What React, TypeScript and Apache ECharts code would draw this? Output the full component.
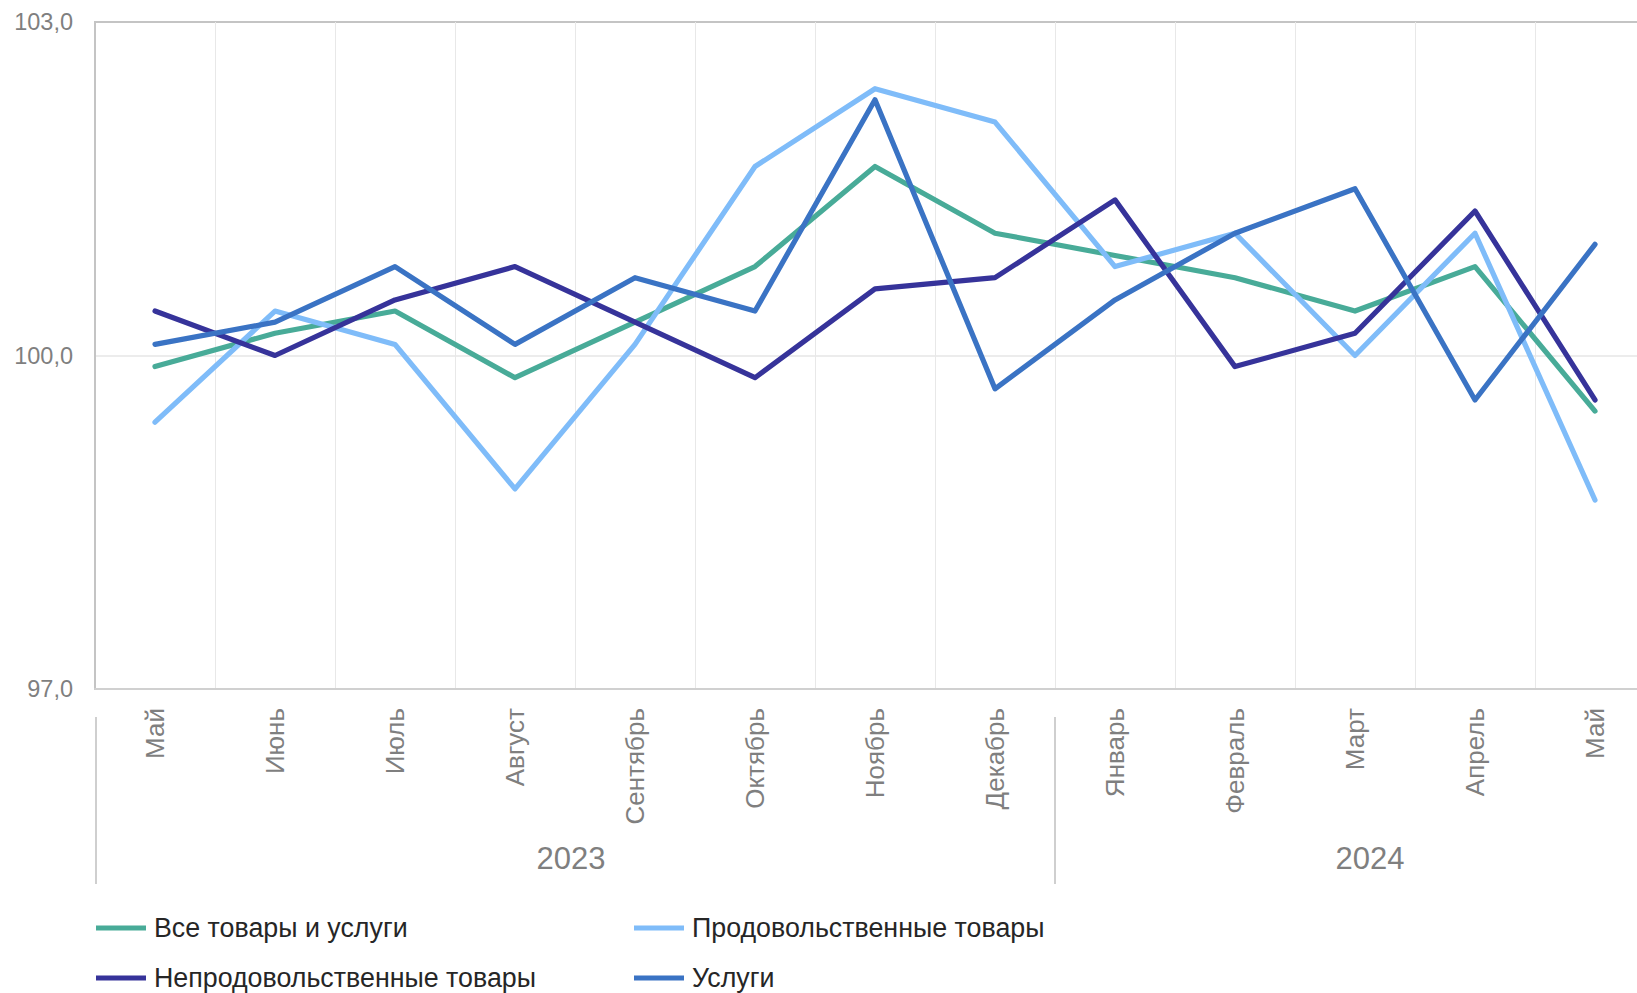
import React, { useEffect, useRef } from "react";
import * as echarts from "echarts";

const months = ["Май", "Июнь", "Июль", "Август", "Сентябрь", "Октябрь", "Ноябрь", "Декабрь", "Январь", "Февраль", "Март", "Апрель", "Май"];
const years = ["2023", "2024"];
const yearStartIndex = [0, 8];

const allGoods = [99.9, 100.2, 100.4, 99.8, 100.3, 100.8, 101.7, 101.1, 100.9, 100.7, 100.4, 100.8, 99.5];
const foodGoods = [99.4, 100.4, 100.1, 98.8, 100.1, 101.7, 102.4, 102.1, 100.8, 101.1, 100.0, 101.1, 98.7];
const nonFoodGoods = [100.4, 100.0, 100.5, 100.8, 100.3, 99.8, 100.6, 100.7, 101.4, 99.9, 100.2, 101.3, 99.6];
const services = [100.1, 100.3, 100.8, 100.1, 100.7, 100.4, 102.3, 99.7, 100.5, 101.1, 101.5, 99.6, 101.0];

const seriesNames = ["Все товары и услуги", "Продовольственные товары", "Непродовольственные товары", "Услуги"];
const seriesColors = ["#48ab98", "#7fbcf9", "#36339a", "#3a73c4"];
const seriesValues = [allGoods, foodGoods, nonFoodGoods, services];

const yTicks = [97, 100, 103];

const FONT = "'Liberation Sans', Arial, sans-serif";

export default function App() {
  const ref = useRef<HTMLDivElement>(null);

  useEffect(() => {
    if (!ref.current) return;
    const chart = echarts.init(ref.current, null, { renderer: "svg" });

    const splitColors = [];
    for (let v = 97; v <= 103; v++) {
      splitColors.push(v === 100 ? "#e6e6e6" : "rgba(0,0,0,0)");
    }

    const legendCommon = {
      orient: "vertical",
      icon: "rect",
      itemWidth: 50,
      itemHeight: 5,
      itemGap: 20,
      padding: 0,
      selectedMode: false,
      textStyle: { fontFamily: FONT, fontSize: 26.8, color: "#262626", lineHeight: 30, padding: [0, 0, 0, 3] },
    };

    chart.setOption({
      animation: false,
      backgroundColor: "#ffffff",
      grid: {
        left: 95,
        top: 22,
        width: 1560,
        bottom: 304,
        outerBoundsMode: "none",
        containLabel: false,
        show: true,
        borderColor: "#c4c4c4",
        borderWidth: 2,
        backgroundColor: "rgba(0,0,0,0)",
      },
      legend: [
        { ...legendCommon, left: 96, top: 913, data: [seriesNames[0], seriesNames[2]] },
        { ...legendCommon, left: 634, top: 913, data: [seriesNames[1], seriesNames[3]] },
      ],
      xAxis: {
        type: "category",
        data: months,
        boundaryGap: true,
        axisLine: { show: true, lineStyle: { color: "#d0d0d0", width: 2 } },
        axisTick: { show: false },
        splitLine: { show: true, lineStyle: { color: "#e8e8e8", width: 1 } },
        axisLabel: {
          rotate: 90,
          margin: 19,
          fontFamily: FONT,
          fontSize: 26,
          color: "#7f7f7f",
          interval: 0,
        },
      },
      yAxis: {
        type: "value",
        min: 97,
        max: 103,
        interval: 1,
        axisLine: { show: true, lineStyle: { color: "#c4c4c4", width: 2 } },
        axisTick: { show: false },
        splitLine: { show: true, lineStyle: { color: splitColors, width: 1.5 } },
        axisLabel: {
          margin: 22,
          fontFamily: FONT,
          fontSize: 23.5,
          color: "#7f7f7f",
          formatter: (v: number) => (yTicks.includes(Math.round(v * 10) / 10) ? v.toFixed(1).replace(".", ",") : ""),
        },
      },
      series: seriesNames.map((name, i) => ({
        name,
        type: "line",
        data: seriesValues[i],
        symbol: "none",
        itemStyle: { color: seriesColors[i] },
        lineStyle: { color: seriesColors[i], width: 5.2, cap: "round", join: "round" },
        z: 2 + i,
      })),
    });

    const px = (i: number) => chart.convertToPixel({ xAxisIndex: 0 }, i) as number;
    const band = px(1) - px(0);
    const sepTop = 717;
    const sepBottom = 884;
    const boundaries = [px(0) - band / 2 + 1, px(yearStartIndex[1]) - band / 2];
    const yearCenters = [
      (px(yearStartIndex[0]) + px(yearStartIndex[1] - 1)) / 2 - 4,
      (px(yearStartIndex[1]) + px(months.length - 1)) / 2 + 15,
    ];

    chart.setOption({
      graphic: [
        ...boundaries.map((x) => ({
          type: "line",
          shape: { x1: x, y1: sepTop, x2: x, y2: sepBottom },
          style: { stroke: "#bfbfbf", lineWidth: 1.5 },
        })),
        ...years.map((y, i) => ({
          type: "text",
          x: yearCenters[i],
          y: 858,
          style: {
            text: y,
            fontFamily: FONT,
            fontSize: 31,
            fill: "#7f7f7f",
            align: "center",
            verticalAlign: "middle",
          },
        })),
      ],
    });

    return () => chart.dispose();
  }, []);

  return (
    <div
      ref={ref}
      style={{ position: "fixed", left: 0, top: 0, width: 1637, height: 993, overflow: "hidden", background: "#fff" }}
    />
  );
}
